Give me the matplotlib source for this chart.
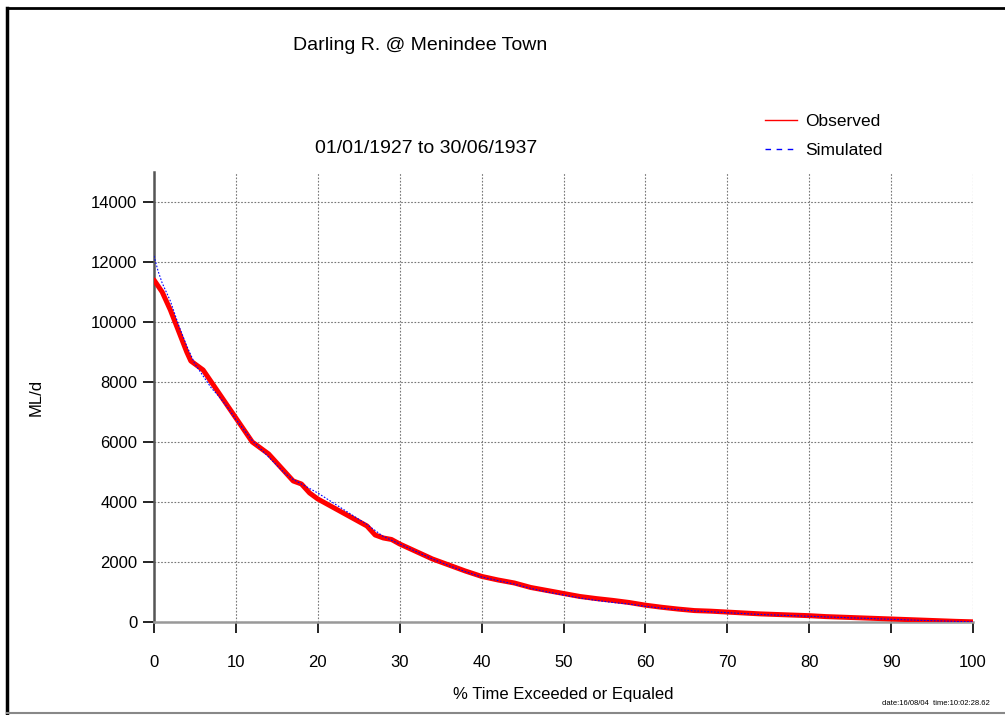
import matplotlib.pyplot as plt
from matplotlib.lines import Line2D

# flow duration curve
obs_pct = [0, 1, 2, 3, 4, 4.5, 5, 6, 7, 8, 9, 10, 11, 12, 13, 14, 15, 16, 17, 18, 19, 20,
           22, 24, 26, 27, 28, 29, 30, 32, 34, 36, 38, 40, 42, 44, 46, 48, 50, 52, 54, 56,
           58, 60, 62, 64, 66, 68, 70, 72, 74, 76, 78, 80, 82, 84, 86, 88, 90, 92, 94, 96,
           98, 100]
obs_flow = [11400, 11000, 10400, 9700, 9000, 8700, 8600, 8400, 8000, 7600, 7200, 6800,
            6400, 6000, 5800, 5600, 5300, 5000, 4700, 4600, 4300, 4100, 3800, 3500, 3200,
            2900, 2800, 2750, 2600, 2350, 2100, 1900, 1700, 1520, 1400, 1300, 1150, 1050,
            950, 850, 780, 720, 650, 560, 490, 430, 380, 360, 330, 300, 270, 250, 230, 210,
            180, 160, 140, 120, 100, 80, 60, 40, 20, 5]

sim_pct = [0, 0.5, 1, 2, 3, 4, 5, 6, 7, 8, 9, 10, 12, 14, 16, 17, 18, 20, 22, 24, 26, 28,
           30, 32, 34, 36, 38, 40, 42, 44, 46, 48, 50, 52, 54, 56, 58, 60, 62, 64, 66, 68,
           70, 72, 74, 76, 78, 80, 82, 84, 86, 88, 90, 92, 94, 96, 98, 100]
sim_flow = [12200, 11700, 11300, 10700, 9900, 9200, 8600, 8200, 7800, 7500, 7150, 6750,
            6050, 5500, 4950, 4750, 4600, 4300, 3950, 3600, 3250, 2850, 2600, 2350, 2100,
            1880, 1680, 1500, 1380, 1260, 1120, 1000, 900, 800, 720, 650, 600, 520, 460,
            410, 370, 340, 310, 280, 250, 230, 210, 190, 170, 150, 130, 110, 90, 70, 50,
            35, 20, 5]

x_ticks = list(range(0, 101, 10))
y_ticks = list(range(0, 14001, 2000))

plt.rcParams['font.family'] = ['Liberation Sans', 'DejaVu Sans']

fig = plt.figure(figsize=(10.05, 7.15), dpi=100)
ax = fig.add_axes([0.1532, 0.1301, 0.815, 0.6294])

ax.plot(obs_pct, obs_flow, color='#ff0000', linewidth=3.6, solid_capstyle='round', zorder=3)
ax.plot(sim_pct, sim_flow, color='#0000ff', linewidth=0.8, linestyle=(0, (1.5, 1.5)), zorder=4)

ax.set_xlim(0, 100)
ax.set_ylim(0, 15000)
ax.set_xticks(x_ticks)
ax.set_yticks(y_ticks)
ax.tick_params(axis='both', direction='out', length=8, width=1.2, labelsize=12, colors='black')
ax.tick_params(axis='x', pad=16)
ax.tick_params(axis='y', pad=4)
ax.grid(True, color='#777777', linestyle=(0, (1.5, 1.5)), linewidth=0.8)

for side in ['top', 'right']:
    ax.spines[side].set_visible(False)
ax.spines['left'].set_color('#555555')
ax.spines['left'].set_linewidth(1.8)
ax.spines['bottom'].set_color('#999999')
ax.spines['bottom'].set_linewidth(1.8)

ax.set_xlabel('% Time Exceeded or Equaled', fontsize=12, labelpad=12)
ax.set_ylabel('ML/d', fontsize=12, labelpad=34)

fig.text(0.418, 0.937, 'Darling R. @ Menindee Town', fontsize=14, ha='center', va='center')
fig.text(0.424, 0.793, '01/01/1927 to 30/06/1937', fontsize=14, ha='center', va='center')

handles = [Line2D([], [], color='#ff0000', linewidth=1),
           Line2D([], [], color='#0000ff', linewidth=1, linestyle=(0, (4, 4)))]
fig.legend(handles, ['Observed', 'Simulated'], loc='upper left', bbox_to_anchor=(0.746, 0.862),
           frameon=False, fontsize=12.5, handlelength=1.8, handletextpad=0.5, labelspacing=0.75)

fig.text(0.985, 0.016, 'date:16/08/04  time:10:02:28.62', fontsize=5.5, ha='right', va='center')

# page border
fig.add_artist(Line2D([0.007, 0.007], [0.003, 0.989], color='black', linewidth=2.5))
fig.add_artist(Line2D([0.007, 1.0], [0.989, 0.989], color='black', linewidth=2))
fig.add_artist(Line2D([0.007, 1.0], [0.003, 0.003], color='#888888', linewidth=1.5))

fig.savefig('out.png', dpi=100)
